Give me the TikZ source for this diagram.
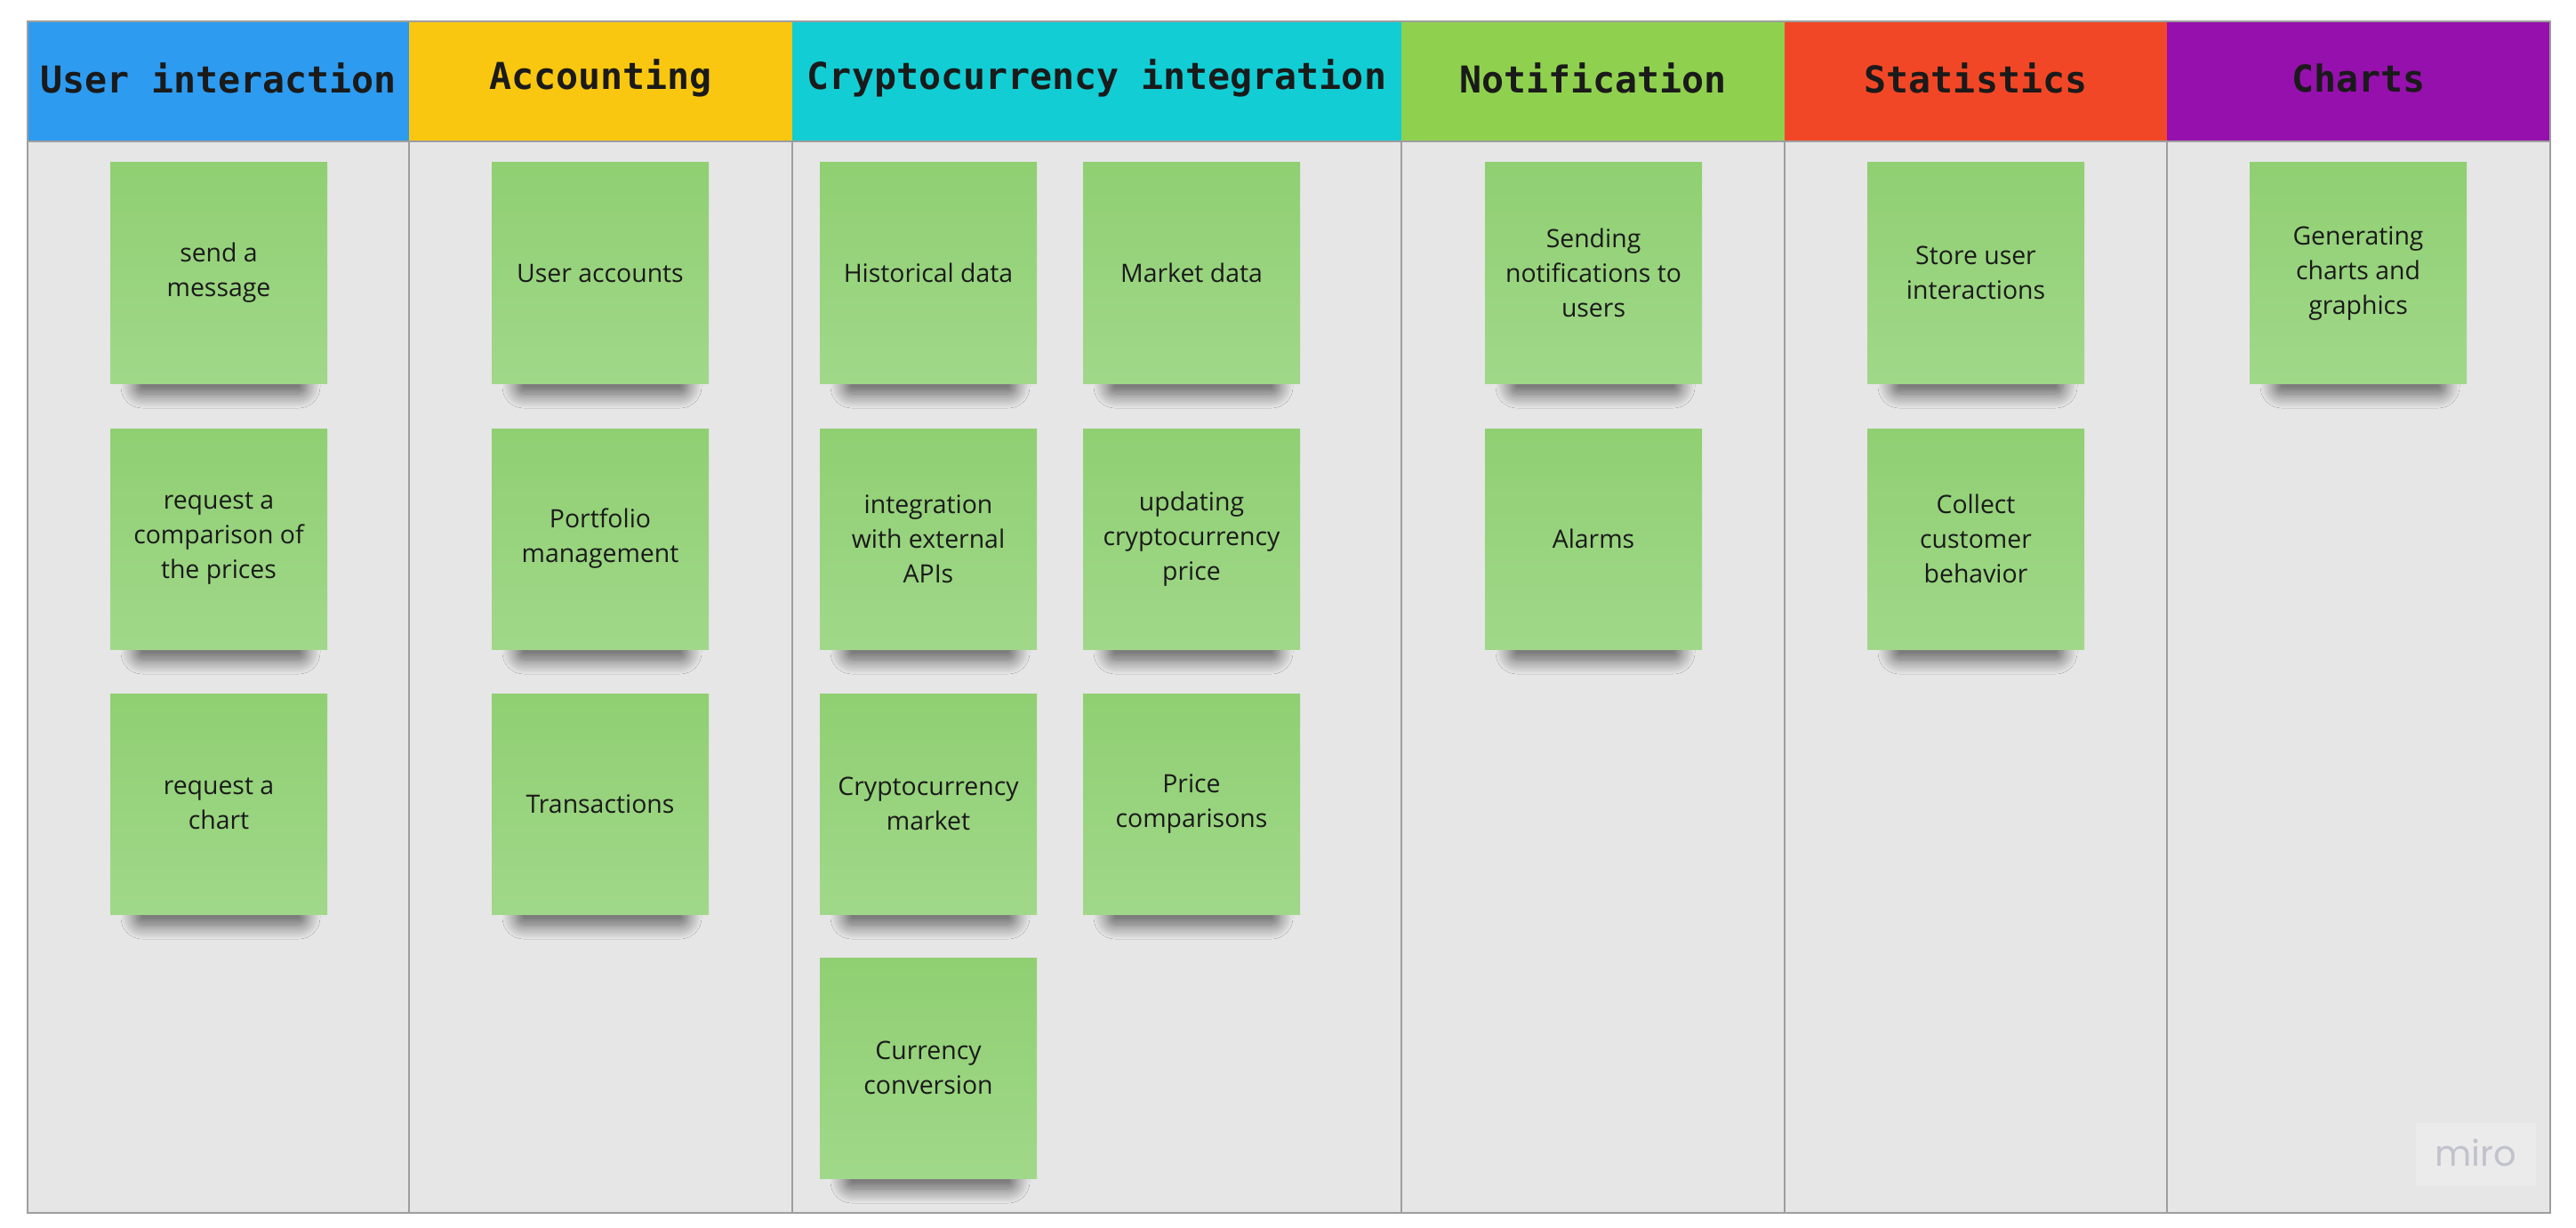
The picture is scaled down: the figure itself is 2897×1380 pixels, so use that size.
\documentclass[tikz,border=0pt]{standalone}
\usepackage{fontspec}
\setmainfont{Open Sans}
\newfontfamily\headfont{DejaVu Sans Mono}
\newfontfamily\mirofont{Poppins}
\usetikzlibrary{shadows.blur}
\definecolor{uiblue}{HTML}{2D9BF0}
\definecolor{acyellow}{HTML}{FAC710}
\definecolor{crcyan}{HTML}{12CDD4}
\definecolor{nogreen}{HTML}{8FD14F}
\definecolor{stred}{HTML}{F24726}
\definecolor{chpurple}{HTML}{9510AC}
\definecolor{boardgray}{HTML}{E6E6E6}
\definecolor{linegray}{HTML}{9E9E9E}
\definecolor{notetop}{HTML}{90CF72}
\definecolor{notebottom}{HTML}{A0D889}
\definecolor{inktext}{HTML}{1A1A1A}
\definecolor{mirobox}{HTML}{EBEBEB}
\definecolor{mirotext}{HTML}{C2C2CC}
\begin{document}
\begin{tikzpicture}[x=0.25pt,y=-0.25pt,
  head/.style={font=\headfont\bfseries\fontsize{10.4}{12}\selectfont,text=inktext},
  note/.style={rectangle,minimum width=61pt,minimum height=62pt,inner sep=0pt,
    top color=notetop,bottom color=notebottom,align=center,text=inktext,
    font=\fontsize{7.1}{9.75}\selectfont},
  noteshadow/.style={blur shadow={shadow xshift=0.5pt,shadow yshift=-3.5pt,
    shadow blur radius=4pt,shadow blur steps=16,shadow blur extra rounding=2pt,
    shadow opacity=60}}]
\useasboundingbox (0,0) rectangle (2897,1380);
\fill[white] (0,0) rectangle (2897,1380);

\fill[boardgray] (31,159) rectangle (2868,1364);
\fill[uiblue] (31,24) rectangle (460,159);
\fill[acyellow] (460,24) rectangle (891,159);
\fill[crcyan] (891,24) rectangle (1576,159);
\fill[nogreen] (1576,24) rectangle (2007,159);
\fill[stred] (2007,24) rectangle (2437,159);
\fill[chpurple] (2437,24) rectangle (2868,159);

\draw[linegray,line width=0.5pt] (31,24) rectangle (2868,1364);
\draw[linegray,line width=0.5pt] (31,159) -- (2868,159);
\foreach \x in {460,891,1576,2007,2437}
  \draw[linegray,line width=0.4pt] (\x,159) -- (\x,1364);

\node[head] (uihead) at (245.5,88) {User interaction};
\node[head] (achead) at (675.5,88) {Accounting};
\node[head] (crhead) at (1233.5,88) {Cryptocurrency integration};
\node[head] (nohead) at (1791.5,88) {Notification};
\node[head] (sthead) at (2222,88) {Statistics};
\node[head] (chhead) at (2652.5,88) {Charts};

\foreach \x/\y in {246/307,246/606,246/904,675/307,675/606,675/904,
  1044/307,1044/606,1044/904,1044/1201,1340/307,1340/606,1340/904,
  1792/307,1792/606,2222/307,2222/606,2652/307}
  \path[noteshadow] (\x-96,\y+104) rectangle (\x+96,\y+122);

\node[note] (sendmsg) at (246,307) {send a\\message};
\node[note] (reqcomp) at (246,606) {request a\\comparison of\\the prices};
\node[note] (reqchart) at (246,904) {request a\\chart};

\node[note] (useracc) at (675,307) {User accounts};
\node[note] (portfolio) at (675,606) {Portfolio\\management};
\node[note] (transact) at (675,904) {Transactions};

\node[note] (histdata) at (1044,307) {Historical data};
\node[note] (extapis) at (1044,606) {integration\\with external\\APIs};
\node[note] (crmarket) at (1044,904) {Cryptocurrency\\market};
\node[note] (convert) at (1044,1201) {Currency\\conversion};
\node[note] (mktdata) at (1340,307) {Market data};
\node[note] (updprice) at (1340,606) {updating\\cryptocurrency\\price};
\node[note] (pricecmp) at (1340,904) {Price\\comparisons};

\node[note] (sendnote) at (1792,307) {Sending\\notifications to\\users};
\node[note] (alarms) at (1792,606) {Alarms};

\node[note] (storeint) at (2222,307) {Store user\\interactions};
\node[note] (collect) at (2222,606) {Collect\\customer\\behavior};

\node[note] (gencharts) at (2652,307) {Generating\\charts and\\graphics};

\fill[mirobox] (2717,1263) rectangle (2852,1334);
\node[font=\mirofont\fontsize{10}{12}\selectfont,text=mirotext] (miro) at (2784.5,1296) {miro};
\end{tikzpicture}
\end{document}
